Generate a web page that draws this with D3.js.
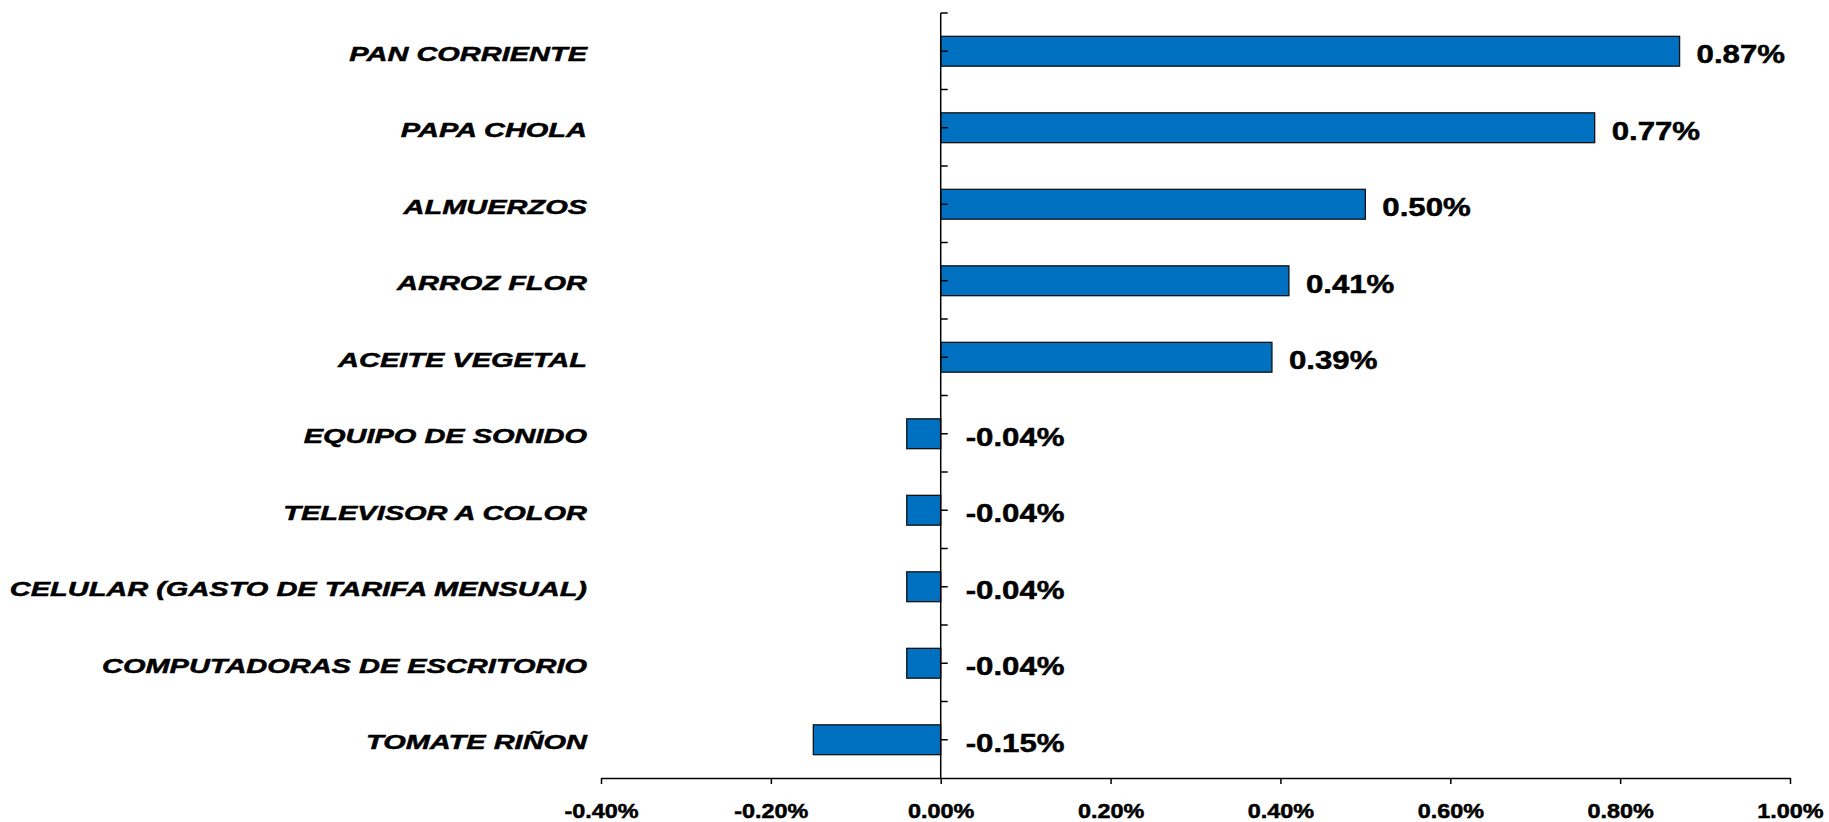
<!DOCTYPE html>
<html>
<head>
<meta charset="utf-8">
<script src="https://cdn.jsdelivr.net/npm/d3@7"></script>
<style>
  body { margin: 0; background: #fff; }
  svg { display: block; }
  text { font-family: "Liberation Sans", Arial, sans-serif; font-weight: bold; fill: #000; stroke: #000; stroke-width: 0.5px; }
</style>
</head>
<body>
<svg id="chart" width="1829" height="822"></svg>
<script>
// chart data
var categories = ["PAN CORRIENTE", "PAPA CHOLA", "ALMUERZOS", "ARROZ FLOR", "ACEITE VEGETAL",
  "EQUIPO DE SONIDO", "TELEVISOR A COLOR", "CELULAR (GASTO DE TARIFA MENSUAL)",
  "COMPUTADORAS DE ESCRITORIO", "TOMATE RIÑON"];
var values = [0.87, 0.77, 0.50, 0.41, 0.39, -0.04, -0.04, -0.04, -0.04, -0.15];
var xTicks = [-0.40, -0.20, 0.00, 0.20, 0.40, 0.60, 0.80, 1.00];

var svg = d3.select("#chart");

// plot area
var plot = {left: 601, right: 1790, top: 13, bottom: 778};

var x = d3.scaleLinear().domain([-0.4, 1.0]).range([plot.left, plot.right]);
var y = d3.scaleBand().domain(categories).range([plot.top, plot.bottom])
    .paddingInner(0.61).paddingOuter(0.305);

var fmt = function(v) { return v.toFixed(2) + "%"; };

// bars
svg.selectAll(".bar")
  .data(categories)
  .enter().append("rect")
    .attr("class", "bar")
    .attr("x", function(d, i) { return Math.min(x(0), x(values[i])); })
    .attr("y", function(d) { return y(d); })
    .attr("width", function(d, i) { return Math.abs(x(values[i]) - x(0)); })
    .attr("height", y.bandwidth())
    .attr("fill", "#0070C0")
    .attr("stroke", "#111")
    .attr("stroke-width", 1.3);

// y axis (at zero) with ticks every half category
var yTickPos = d3.range(0, categories.length * 2).map(function(k) { return plot.top + k * y.step() / 2; });
svg.append("line")
    .attr("x1", x(0)).attr("x2", x(0))
    .attr("y1", plot.top).attr("y2", plot.bottom)
    .attr("stroke", "#000").attr("stroke-width", 1.5);
svg.selectAll(".ytick")
  .data(yTickPos)
  .enter().append("line")
    .attr("class", "ytick")
    .attr("x1", x(0)).attr("x2", x(0) + 7)
    .attr("y1", function(d) { return d; })
    .attr("y2", function(d) { return d; })
    .attr("stroke", "#000").attr("stroke-width", 1.5);

// x axis
var xAxis = svg.append("g")
    .attr("transform", "translate(0," + plot.bottom + ")")
    .call(d3.axisBottom(x).tickValues(xTicks).tickSize(6).tickSizeOuter(0).tickFormat(fmt));
xAxis.select(".domain").attr("stroke", "#000").attr("stroke-width", 1.5);
xAxis.selectAll(".tick line").attr("stroke", "#000").attr("stroke-width", 1.5);
xAxis.selectAll(".tick text")
    .attr("y", 0).attr("dy", null)
    .attr("transform", "translate(0,40) scale(1.17,1)")
    .style("font-size", "20px")
    .style("font-family", "'Liberation Sans', Arial, sans-serif")
    .style("font-weight", "bold")
    .attr("fill", "#000");

// category labels (the original text is drawn wider than normal)
svg.selectAll(".cat")
  .data(categories)
  .enter().append("text")
    .attr("class", "cat")
    .attr("transform", function(d) {
      return "translate(587," + (y(d) + y.bandwidth() / 2 + 9.5) + ") scale(1.38,1)";
    })
    .attr("text-anchor", "end")
    .style("font-size", "21px")
    .style("font-style", "italic")
    .text(function(d) { return d; });

// value labels
svg.selectAll(".val")
  .data(categories)
  .enter().append("text")
    .attr("class", "val")
    .attr("transform", function(d, i) {
      var v = values[i];
      var tx = v >= 0 ? x(v) + 17 : x(0) + 25;
      return "translate(" + tx + "," + (y(d) + y.bandwidth() / 2 + 12) + ") scale(1.2,1)";
    })
    .style("font-size", "26px")
    .text(function(d, i) { return fmt(values[i]); });
</script>
</body>
</html>
